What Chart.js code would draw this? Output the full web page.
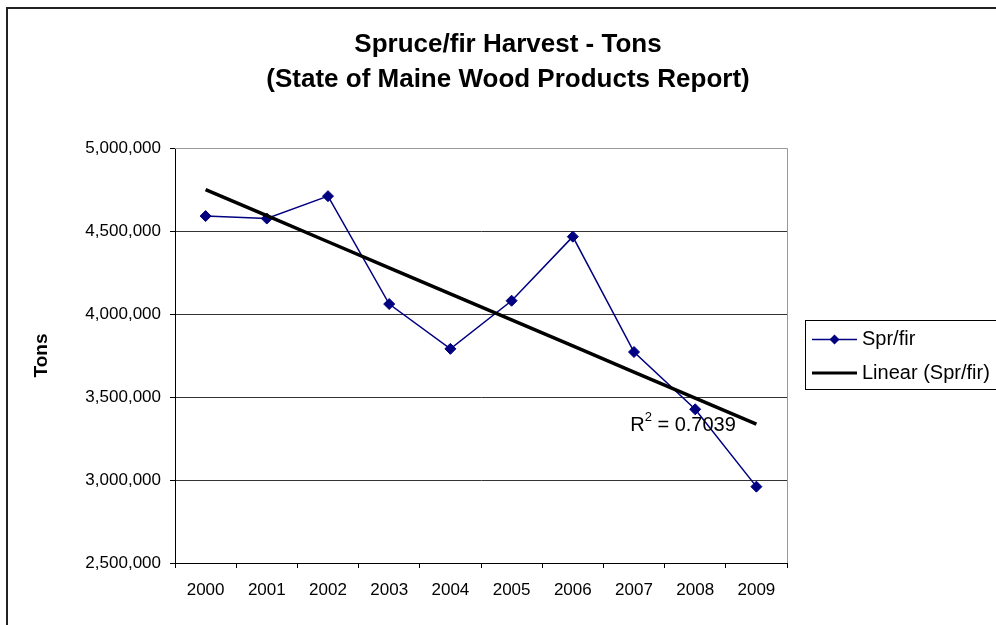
<!DOCTYPE html>
<html>
<head>
<meta charset="utf-8">
<script src="https://cdn.jsdelivr.net/npm/chart.js@4.4.1/dist/chart.umd.min.js"></script>
<style>
  html, body { margin: 0; padding: 0; background: #fff; overflow: hidden; }
  #wrap { position: absolute; left: 0; top: 0; width: 996px; height: 625px; }
</style>
</head>
<body>
<div id="wrap"><canvas id="c" width="996" height="625"></canvas></div>
<script>
const categories = ['2000','2001','2002','2003','2004','2005','2006','2007','2008','2009'];
const sprFir = [4590000, 4575000, 4710000, 4060000, 3790000, 4080000, 4466000, 3771000, 3426000, 2960000];
const yTicks = [2500000, 3000000, 3500000, 4000000, 4500000, 5000000];
const titleLines = ['Spruce/fir Harvest - Tons', '(State of Maine Wood Products Report)'];
const seriesLabel = 'Spr/fir';
const trendLabel = 'Linear (Spr/fir)';
const r2Text = '0.7039';
const yAxisTitle = 'Tons';

// Linear least-squares trendline over the series (as the spreadsheet's "Linear" trendline)
function linearTrend(vals) {
  const n = vals.length;
  let sx = 0, sy = 0, sxy = 0, sxx = 0;
  vals.forEach((v, i) => { sx += i; sy += v; sxy += i * v; sxx += i * i; });
  const slope = (n * sxy - sx * sy) / (n * sxx - sx * sx);
  const icpt = (sy - slope * sx) / n;
  return vals.map((_, i) => icpt + slope * i);
}
const trend = linearTrend(sprFir);

const FONT = "'Liberation Sans', Arial, sans-serif";

const decor = {
  id: 'decor',
  beforeDraw(chart) {
    const ctx = chart.ctx;
    ctx.save();
    ctx.fillStyle = '#fff';
    ctx.fillRect(0, 0, chart.width, chart.height);
    // outer frame
    ctx.strokeStyle = '#222';
    ctx.lineWidth = 2;
    ctx.strokeRect(7, 8, 1200, 1200);
    // title
    ctx.fillStyle = '#000';
    ctx.font = 'bold 26px ' + FONT;
    ctx.textAlign = 'center';
    ctx.textBaseline = 'middle';
    ctx.fillText(titleLines[0], 508, 45);
    ctx.fillText(titleLines[1], 508, 80);
    ctx.restore();
  },
  afterDatasetsDraw(chart) {
    const ctx = chart.ctx;
    const a = chart.chartArea;
    ctx.save();
    // plot-area border (top & right) in gray
    ctx.strokeStyle = '#999';
    ctx.lineWidth = 1;
    ctx.beginPath();
    ctx.moveTo(a.left, a.top + 0.5);
    ctx.lineTo(a.right + 0.5, a.top + 0.5);
    ctx.lineTo(a.right + 0.5, a.bottom);
    ctx.stroke();
    // R^2 label
    const xs = chart.scales.x;
    const lx = xs.getPixelForValue(8) - 65;
    const ly = chart.scales.y.getPixelForValue(3330000);
    ctx.fillStyle = '#000';
    ctx.textAlign = 'left';
    ctx.textBaseline = 'middle';
    ctx.font = '20px ' + FONT;
    ctx.fillText('R', lx, ly);
    let w = ctx.measureText('R').width;
    ctx.font = '13px ' + FONT;
    ctx.fillText('2', lx + w, ly - 8);
    w += ctx.measureText('2').width;
    ctx.font = '20px ' + FONT;
    ctx.fillText(' = ' + r2Text, lx + w, ly);
    ctx.restore();
  },
  afterDraw(chart) {
    const ctx = chart.ctx;
    const ds = chart.data.datasets;
    ctx.save();
    // legend box
    ctx.strokeStyle = '#000';
    ctx.lineWidth = 1;
    ctx.strokeRect(805.5, 320.5, 200, 69);
    ctx.font = '20px ' + FONT;
    ctx.textAlign = 'left';
    ctx.textBaseline = 'middle';
    // series entry
    let y = 339.5;
    ctx.strokeStyle = ds[1].borderColor;
    ctx.lineWidth = 1.5;
    ctx.beginPath(); ctx.moveTo(812, y); ctx.lineTo(857, y); ctx.stroke();
    ctx.fillStyle = ds[1].pointBackgroundColor;
    ctx.beginPath();
    ctx.moveTo(834.5 - 5, y); ctx.lineTo(834.5, y - 5); ctx.lineTo(834.5 + 5, y); ctx.lineTo(834.5, y + 5);
    ctx.closePath(); ctx.fill();
    ctx.fillStyle = '#000';
    ctx.fillText(ds[1].label, 862, y);
    // trend entry
    y = 373;
    ctx.strokeStyle = ds[0].borderColor;
    ctx.lineWidth = 3;
    ctx.beginPath(); ctx.moveTo(812, y); ctx.lineTo(857, y); ctx.stroke();
    ctx.fillText(ds[0].label, 862, y);
    ctx.restore();
  }
};

new Chart(document.getElementById('c'), {
  type: 'line',
  data: {
    labels: categories,
    datasets: [
      {
        label: trendLabel,
        data: trend,
        borderColor: '#000',
        borderWidth: 3.5,
        pointRadius: 0,
        tension: 0,
        order: 0
      },
      {
        label: seriesLabel,
        data: sprFir,
        borderColor: '#000080',
        backgroundColor: '#000080',
        borderWidth: 1.5,
        pointStyle: 'rectRot',
        pointRadius: 5.5,
        pointBackgroundColor: '#000080',
        pointBorderColor: '#000080',
        pointBorderWidth: 1,
        tension: 0,
        order: 1
      }
    ]
  },
  options: {
    responsive: false,
    animation: false,
    devicePixelRatio: 1,
    layout: { padding: { top: 148, right: 209, bottom: 0, left: 0 } },
    plugins: {
      legend: { display: false },
      title: { display: false },
      tooltip: { enabled: false }
    },
    scales: {
      x: {
        type: 'category',
        offset: true,
        grid: { display: true, drawOnChartArea: false, offset: true, tickLength: 5, tickColor: '#000' },
        border: { display: true, color: '#000', width: 1 },
        ticks: { color: '#000', font: { family: FONT, size: 17 }, padding: 12, maxRotation: 0, autoSkip: false },
        afterFit(scale) { scale.height = 62; }
      },
      y: {
        min: yTicks[0],
        max: yTicks[yTicks.length - 1],
        afterBuildTicks(scale) { scale.ticks = yTicks.map(v => ({ value: v })); },
        grid: {
          color: (c) => (c.tick && c.tick.value === yTicks[yTicks.length - 1]) ? '#999' : '#333',
          tickColor: '#000',
          tickLength: 5,
          lineWidth: 1
        },
        border: { display: true, color: '#000', width: 1 },
        ticks: {
          color: '#000',
          font: { family: FONT, size: 17 },
          padding: 9,
          callback: (v) => Number(v).toLocaleString('en-US')
        },
        title: {
          display: true,
          text: yAxisTitle,
          color: '#000',
          font: { family: FONT, size: 19, weight: 'bold' },
          padding: { top: 30, bottom: 0 }
        },
        afterFit(scale) { scale.width = 175; }
      }
    }
  },
  plugins: [decor]
});
</script>
</body>
</html>
